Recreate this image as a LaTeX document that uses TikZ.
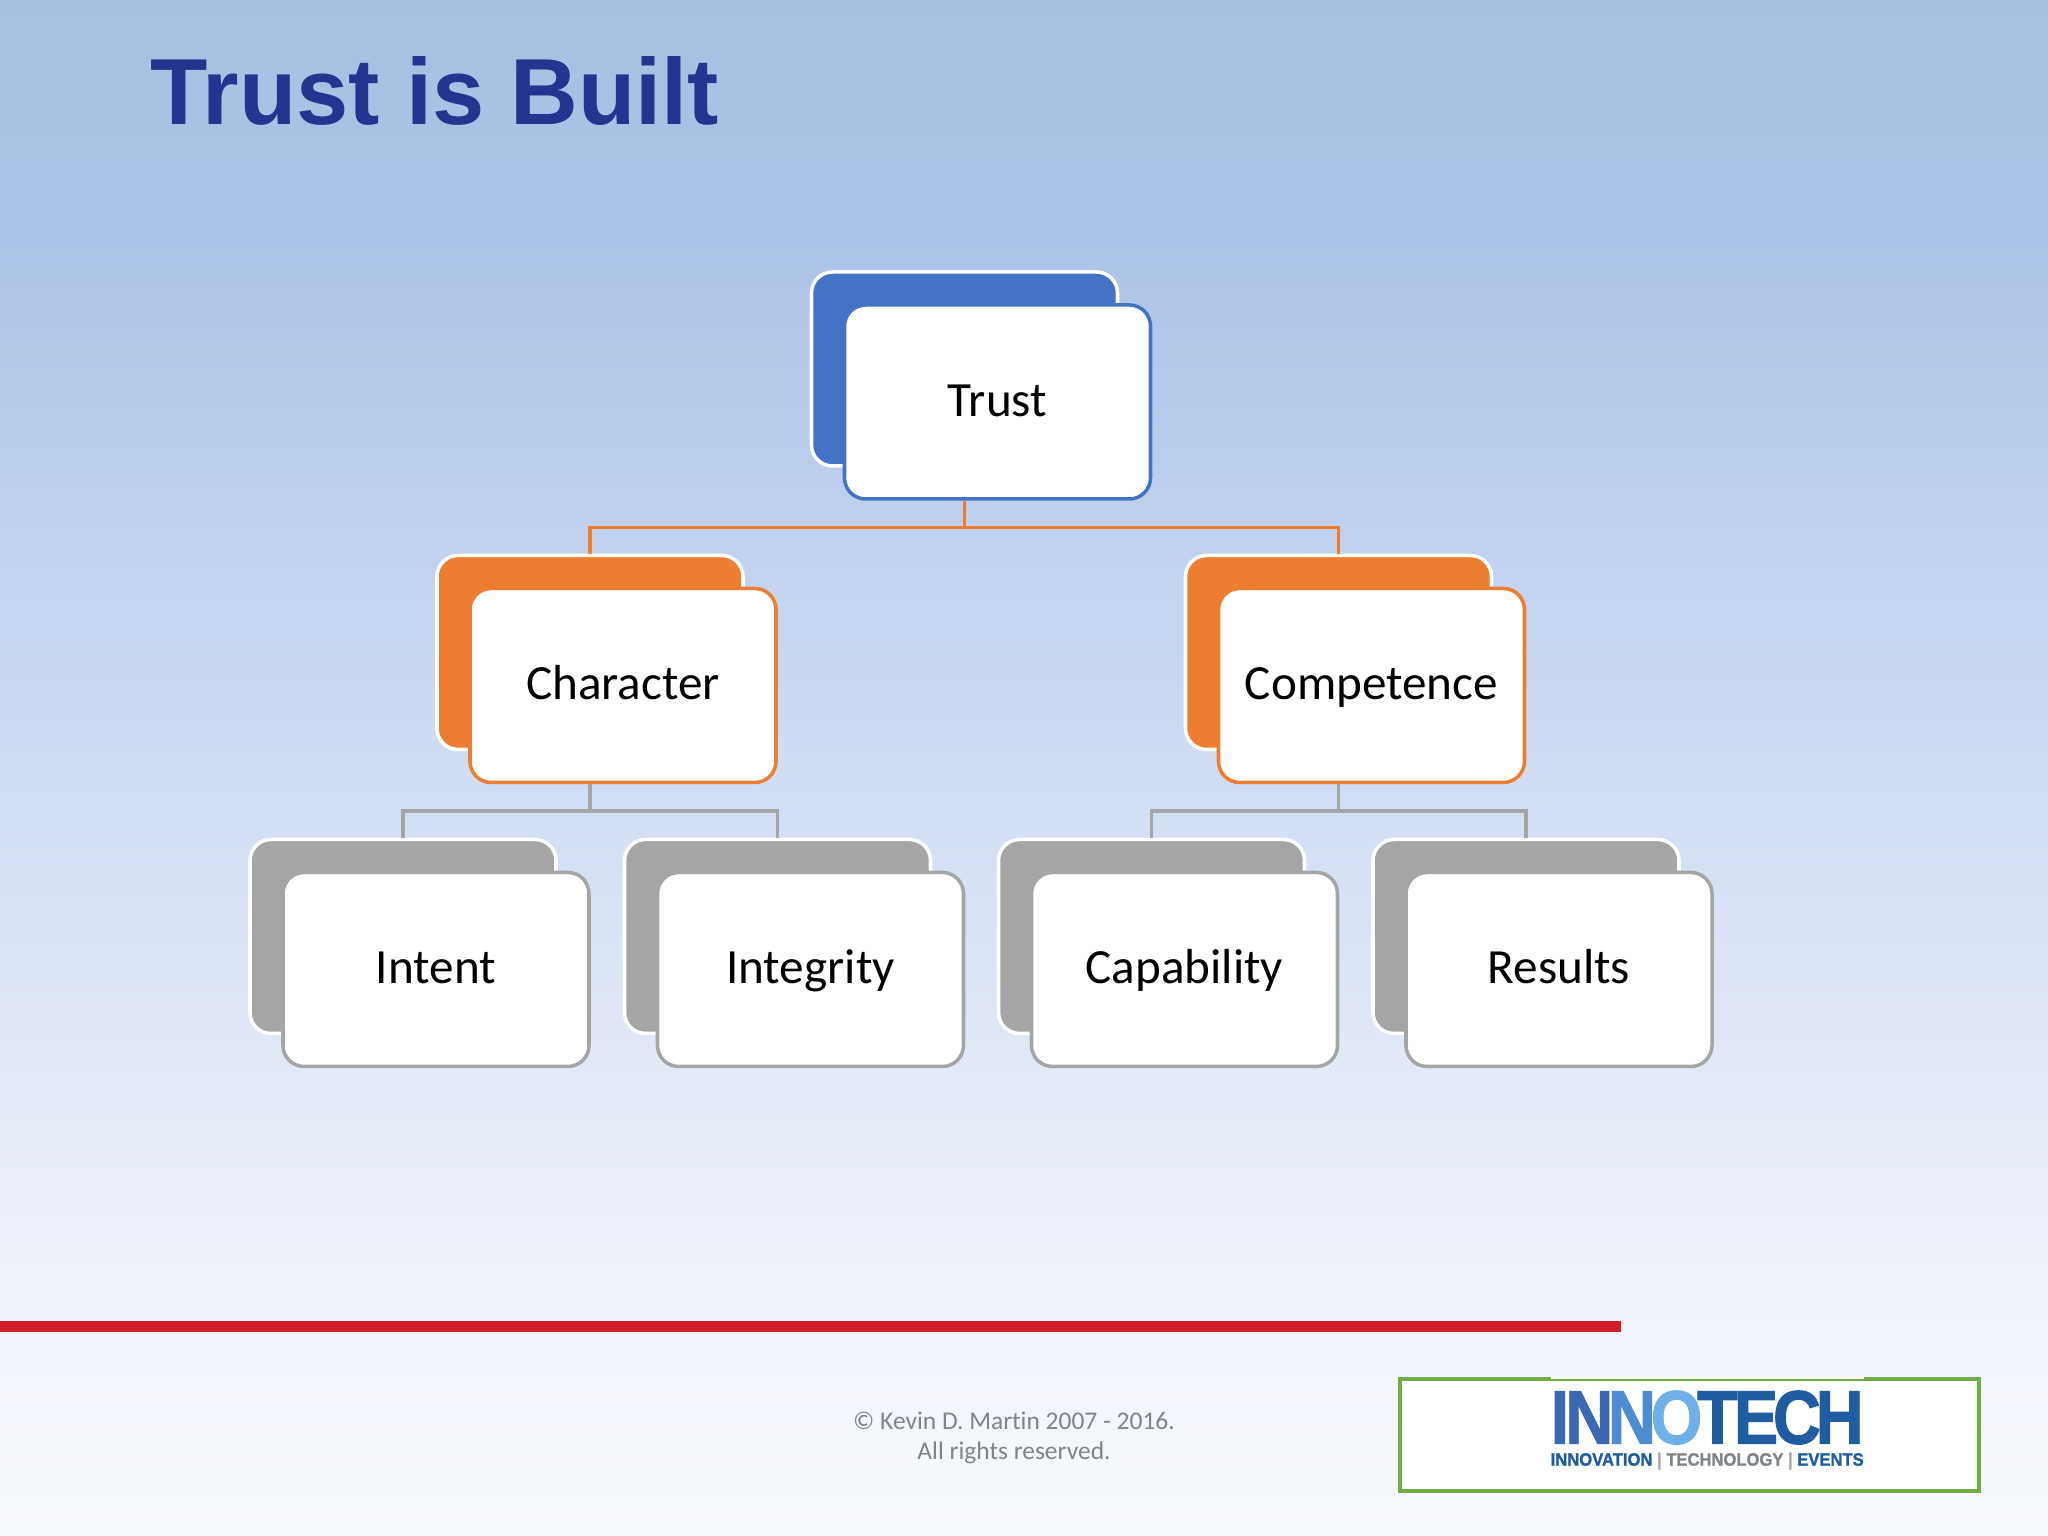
\documentclass[tikz,border=0pt]{standalone}
\usepackage{fontspec}
\setmainfont[Ligatures=NoCommon]{Carlito}
\newfontfamily\titlefont{Liberation Sans}
\newfontfamily\logofont[FakeBold=1.4]{Liberation Sans Bold}
\usetikzlibrary{positioning, calc}
\definecolor{trust_blue}{RGB}{68, 114, 196}
\definecolor{warm_orange}{RGB}{237, 125, 49}
\definecolor{soft_gray}{RGB}{165, 165, 165}
\definecolor{title_navy}{RGB}{37, 53, 143}
\definecolor{rule_red}{RGB}{208, 30, 38}
\definecolor{logo_green}{RGB}{112, 173, 71}
\definecolor{foot_gray}{RGB}{127, 133, 136}
\definecolor{logo_dark}{RGB}{31, 92, 160}
\definecolor{logo_deep}{RGB}{58, 104, 181}
\definecolor{logo_mid}{RGB}{78, 140, 210}
\definecolor{logo_light}{RGB}{112, 176, 232}
\pgfdeclareverticalshading{slidesky}{100bp}{
    rgb(0bp)=(0.97,0.98,0.995);
    rgb(25bp)=(0.97,0.98,0.995);
    rgb(32.5bp)=(0.94,0.95,0.98);
    rgb(50bp)=(0.815,0.865,0.95);
    rgb(67.5bp)=(0.675,0.76,0.91);
    rgb(75bp)=(0.66,0.75,0.89);
    rgb(100bp)=(0.66,0.75,0.89)
}

\begin{document}
\begin{tikzpicture}[
    backcard/.style={
        rectangle,
        draw=white,
        fill=#1,
        line width=1pt,
        minimum width=3.06cm,
        minimum height=1.94cm,
        rounded corners=6pt
    },
    card/.style={
        rectangle,
        draw=#1,
        fill=white,
        line width=1pt,
        minimum width=3.06cm,
        minimum height=1.94cm,
        rounded corners=6pt,
        text=black,
        text height=0.45cm,
        text depth=0.16cm,
        font=\fontsize{14pt}{16pt}\selectfont
    },
    link/.style={
        line width=1pt,
        #1
    }
]

% Slide background
\shade[shading=slidesky] (0,0) rectangle (20.48,15.36);
\useasboundingbox (0,0) rectangle (20.48,15.36);

% Column positions of the lower row
\def\colA{4.03}
\def\colB{7.775}
\def\colC{11.515}
\def\colD{15.26}
\def\rowA{11.67}
\def\rowB{8.835}
\def\rowC{5.995}

% Title
\node[anchor=base west, inner sep=0pt, text=title_navy, font=\titlefont\bfseries\fontsize{26.7pt}{30pt}\selectfont] (title) at (1.5,14.11) {Trust is Built};

% Back cards
\node[backcard=trust_blue] (trustback) at (9.645,\rowA) {};
\node[backcard=warm_orange] (charback) at (5.9,\rowB) {};
\node[backcard=warm_orange] (compback) at (13.385,\rowB) {};
\node[backcard=soft_gray] (intentback) at (\colA,\rowC) {};
\node[backcard=soft_gray] (integrityback) at (\colB,\rowC) {};
\node[backcard=soft_gray] (capabilityback) at (\colC,\rowC) {};
\node[backcard=soft_gray] (resultsback) at (\colD,\rowC) {};

% Front cards
\node[card=trust_blue] (trust) at ($(trustback)+(0.33,-0.33)$) {Trust};
\node[card=warm_orange] (character) at ($(charback)+(0.33,-0.33)$) {Character};
\node[card=warm_orange] (competence) at ($(compback)+(0.33,-0.33)$) {Competence};
\node[card=soft_gray] (intent) at ($(intentback)+(0.33,-0.33)$) {Intent};
\node[card=soft_gray] (integrity) at ($(integrityback)+(0.33,-0.33)$) {Integrity};
\node[card=soft_gray] (capability) at ($(capabilityback)+(0.33,-0.33)$) {Capability};
\node[card=soft_gray] (results) at ($(resultsback)+(0.33,-0.33)$) {Results};

% Connecting lines
\draw[link=warm_orange] (trustback.south |- trust.south) -- ++(0,-0.27) -| (charback.north);
\draw[link=warm_orange] (trustback.south |- trust.south) -- ++(0,-0.27) -| (compback.north);
\draw[link=soft_gray] (charback.south |- character.south) -- ++(0,-0.27) -| (intentback.north);
\draw[link=soft_gray] (charback.south |- character.south) -- ++(0,-0.27) -| (integrityback.north);
\draw[link=soft_gray] (compback.south |- competence.south) -- ++(0,-0.27) -| (capabilityback.north);
\draw[link=soft_gray] (compback.south |- competence.south) -- ++(0,-0.27) -| (resultsback.north);

% Red rule
\fill[rule_red] (0,2.04) rectangle (16.21,2.15);

% Footer
\node[align=center, text=foot_gray, font=\fontsize{7.25pt}{8.5pt}\selectfont] (footer) at (10.14,0.98) {\textcopyright{} Kevin D. Martin 2007 - 2016.\\All rights reserved.};

% Logo box
\node[draw=logo_green, fill=white, line width=1pt, minimum width=5.79cm, minimum height=1.12cm, inner sep=0pt] (logobox) at (16.895,1.01) {};
\node[fill=white, inner sep=0pt, minimum width=3.13cm, minimum height=0.02cm] (logopatch) at (17.07,1.58) {};
\node[inner sep=0pt, anchor=north west, font=\logofont] (logoword) at (15.5,1.46) {\resizebox{3.13cm}{0.53cm}{\textcolor{logo_deep}{I\kern-0.06em N}\kern-0.08em\textcolor{logo_mid}{N}\kern-0.08em\textcolor{logo_light}{O}\kern-0.08em\textcolor{logo_dark}{T\kern-0.06em E\kern-0.08em C\kern-0.08em H}}};
\node[inner sep=0pt, anchor=north west, font=\logofont] (logotag) at (15.5,0.84) {\resizebox{3.13cm}{0.13cm}{\textcolor{logo_dark}{INNOVATION}\textcolor{soft_gray}{\ |\ }\textcolor{foot_gray}{TECHNOLOGY}\textcolor{soft_gray}{\ |\ }\textcolor{logo_dark}{EVENTS}}};

\end{tikzpicture}
\end{document}
